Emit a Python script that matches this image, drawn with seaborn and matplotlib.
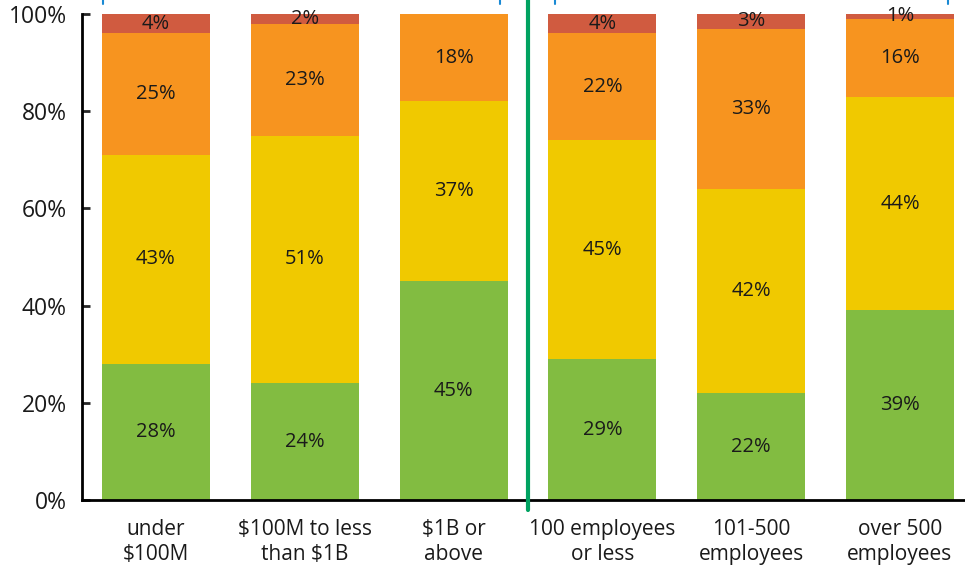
"""Stacked bars: share of answers by company revenue and by company size."""
import matplotlib

matplotlib.use("Agg")
import matplotlib.pyplot as plt
import numpy as np
import pandas as pd
import seaborn as sns
from matplotlib.lines import Line2D
from matplotlib.ticker import FuncFormatter

# Data
categorias = [
    "under\n$100M",
    "$100M to less\nthan $1B",
    "$1B or\nabove",
    "100 employees\nor less",
    "101-500\nemployees",
    "over 500\nemployees",
]
verde = [28, 24, 45, 29, 22, 39]
amarelo = [43, 51, 37, 45, 42, 44]
laranja = [25, 23, 18, 22, 33, 16]
vermelho = [4, 2, 0, 4, 3, 1]

segmentos = ["verde", "amarelo", "laranja", "vermelho"]
cores = {
    "verde": "#82BC41",
    "amarelo": "#F0C900",
    "laranja": "#F7941F",
    "vermelho": "#D05B40",
}


def montar_tabela() -> pd.DataFrame:
    """Monta a tabela com os valores e as somas acumuladas."""
    df = pd.DataFrame(
        {
            "Categoria": categorias,
            "verde": verde,
            "amarelo": amarelo,
            "laranja": laranja,
            "vermelho": vermelho,
        }
    )
    acumulado = df[segmentos].cumsum(axis=1)
    for seg in segmentos:
        df[f"{seg}_topo"] = acumulado[seg]
    return df


def grafico_empilhado(df: pd.DataFrame) -> None:
    sns.set_theme(style="white")
    plt.rcParams["font.family"] = ["Open Sans", "DejaVu Sans"]

    fig = plt.figure(figsize=(9.65, 5.67), dpi=100)
    ax = fig.add_axes([82 / 965, 67 / 567, 883 / 965, 486 / 567])

    # draw from the top layer down so each layer covers the one behind
    for seg in segmentos[::-1]:
        sns.barplot(
            data=df,
            x="Categoria",
            y=f"{seg}_topo",
            color=cores[seg],
            width=0.725,
            saturation=1,
            linewidth=0,
            ax=ax,
        )

    # percentage labels in the middle of each segment
    for i in range(len(df)):
        base = 0
        for seg in segmentos:
            valor = df[seg].iloc[i]
            if valor > 0:
                ax.text(i, base + valor / 2, f"{valor}%", ha="center", va="center",
                        fontsize=14.5, color="#1a1a1a")
            base += valor

    ax.axvline(2.5, ymin=-0.021, ymax=1.03, color="#00A261", linewidth=3, clip_on=False, zorder=5)

    ax.set_ylim(0, 100)
    ax.set_xlim(-0.497, 5.437)
    ax.set_yticks([0, 20, 40, 60, 80, 100])
    ax.yaxis.set_major_formatter(FuncFormatter(lambda v, _: f"{v:.0f}%"))
    ax.set_xlabel("")
    ax.set_ylabel("")

    sns.despine(ax=ax, top=True, right=True)
    for lado in ["left", "bottom"]:
        ax.spines[lado].set_linewidth(2)
        ax.spines[lado].set_color("black")

    ax.tick_params(axis="y", direction="in", length=6, width=2, pad=11,
                   labelsize=16.5, labelcolor="#1a1a1a", left=True)
    ax.tick_params(axis="x", length=0, pad=14, labelsize=15, labelcolor="#1a1a1a")
    for rotulo in ax.get_xticklabels():
        rotulo.set_linespacing(1.25)

    # small blue marks cut off at the top of the original
    for xp in [103, 500, 555, 948]:
        fig.add_artist(Line2D([xp / 965, xp / 965], [1.0, 1 - 4 / 567],
                              color="#1A8AD4", linewidth=1.5, transform=fig.transFigure))

    fig.savefig("out.png", dpi=100)
    plt.close(fig)


if __name__ == "__main__":
    grafico_empilhado(montar_tabela())
